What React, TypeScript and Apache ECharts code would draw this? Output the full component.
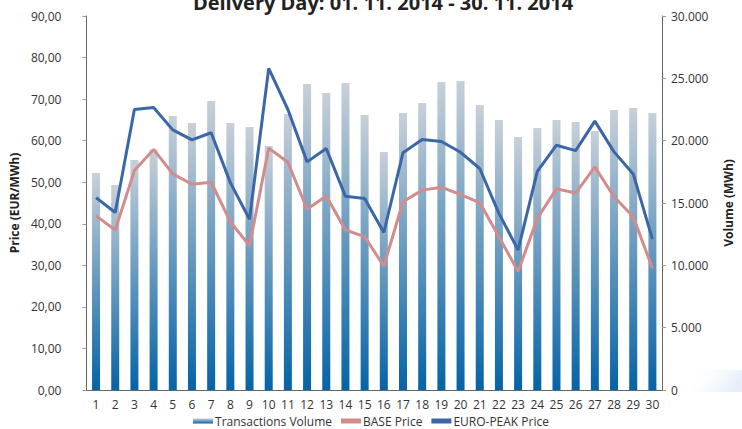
import React, { useEffect, useRef } from "react";
import * as echarts from "echarts";

const days = Array.from({ length: 30 }, (_, i) => String(i + 1));
const volume = [17400, 16440, 18450, 19300, 21980, 21410, 23180, 21410, 21090, 19570, 22140, 24540, 23820, 24620, 22060, 19090, 22220, 23020, 24700, 24780, 22860, 21650, 20290, 21010, 21650, 21490, 20770, 22460, 22620, 22220];
const basePrice = [41.9, 38.5, 52.8, 57.9, 52.0, 49.5, 50.0, 40.5, 34.7, 58.2, 54.8, 43.5, 46.7, 38.5, 36.9, 29.8, 45.3, 48.1, 48.8, 47.0, 45.1, 36.9, 28.5, 41.3, 48.4, 47.4, 53.7, 46.5, 41.7, 29.3];
const peakPrice = [46.3, 42.7, 67.5, 68.0, 62.6, 60.2, 61.9, 49.9, 41.1, 77.4, 67.5, 54.9, 58.1, 46.6, 46.1, 37.9, 57.1, 60.3, 59.8, 57.2, 53.3, 42.5, 33.7, 52.6, 58.9, 57.6, 64.7, 57.3, 52.0, 36.3];

const FONT = "'Open Sans', sans-serif";

export default function App() {
  const ref = useRef<HTMLDivElement>(null);
  useEffect(() => {
    if (!ref.current) return;
    const chart = echarts.init(ref.current, undefined, { renderer: "svg" });
    const barGrad = new echarts.graphic.LinearGradient(0, 0, 0, 1, [
      { offset: 0, color: "#c8d0d8" },
      { offset: 1, color: "#0563a6" },
    ]);
    chart.setOption({
      animation: false,
      backgroundColor: "#ffffff",
      textStyle: { fontFamily: FONT },
      title: {
        text: "Delivery Day: 01. 11. 2014 - 30. 11. 2014",
        left: 378,
        textAlign: "center",
        top: -13,
        textStyle: { fontSize: 20, fontWeight: "bold", color: "#222", fontFamily: FONT },
      },
      graphic: [
        {
          type: "rect",
          shape: { x: 690, y: 370, width: 52, height: 22 },
          silent: true,
          z: -1,
          style: {
            fill: new echarts.graphic.LinearGradient(0, 0, 1, 0.3, [
              { offset: 0, color: "rgba(255,255,255,0)" },
              { offset: 1, color: "rgba(210,226,244,0.55)" },
            ]),
          },
        },
      ],
      legend: {
        top: 415,
        padding: 0,
        left: "center",
        itemWidth: 20,
        itemHeight: 5,
        itemGap: 9,
        icon: "rect",
        textStyle: { fontSize: 12, color: "#333", fontFamily: FONT, padding: [0, 0, 0, -3] },
        data: ["Transactions Volume", "BASE Price", "EURO-PEAK Price"],
      },
      grid: { left: 79.5, right: 67, top: 16, bottom: 39, containLabel: false },
      xAxis: {
        type: "category",
        data: days,
        axisLine: { lineStyle: { color: "#666", width: 1 } },
        axisTick: { show: false },
        axisLabel: { color: "#333", fontSize: 12, margin: 8, interval: 0 },
      },
      yAxis: [
        {
          type: "value",
          min: 0,
          max: 90,
          interval: 10,
          name: "Price (EUR/MWh)",
          nameLocation: "middle",
          nameRotate: 90,
          nameGap: 60,
          nameTextStyle: { fontWeight: "bold", fontSize: 12, color: "#222" },
          axisLine: { show: true, lineStyle: { color: "#666" } },
          axisTick: { show: true, length: 4, lineStyle: { color: "#999" } },
          splitLine: { show: false },
          axisLabel: {
            color: "#333",
            fontSize: 12,
            margin: 25,
            formatter: (v: number) => v.toFixed(2).replace(".", ","),
          },
        },
        {
          type: "value",
          min: 0,
          max: 30000,
          interval: 5000,
          name: "Volume (MWh)",
          nameLocation: "middle",
          nameRotate: 90,
          nameGap: 60,
          nameTextStyle: { fontWeight: "bold", fontSize: 12, color: "#222" },
          axisLine: { show: true, lineStyle: { color: "#666" } },
          axisTick: { show: true, length: 4, lineStyle: { color: "#999" } },
          splitLine: { show: false },
          axisLabel: {
            color: "#333",
            fontSize: 12,
            margin: 9,
            formatter: (v: number) => (v === 0 ? "0" : (v / 1000).toFixed(3)),
          },
        },
      ],
      series: [
        {
          name: "Transactions Volume",
          type: "bar",
          yAxisIndex: 1,
          data: volume,
          barWidth: 8,
          itemStyle: { color: barGrad },
        },
        {
          name: "BASE Price",
          type: "line",
          yAxisIndex: 0,
          data: basePrice,
          symbol: "none",
          lineStyle: { color: "#d28c8b", width: 3 },
          itemStyle: { color: "#d28c8b" },
        },
        {
          name: "EURO-PEAK Price",
          type: "line",
          yAxisIndex: 0,
          data: peakPrice,
          symbol: "none",
          lineStyle: { color: "#3c67a6", width: 3 },
          itemStyle: { color: "#3c67a6" },
        },
      ],
    });
    return () => chart.dispose();
  }, []);
  return <div ref={ref} style={{ width: 742, height: 429, position: "absolute", left: 0, top: 0 }} />;
}
